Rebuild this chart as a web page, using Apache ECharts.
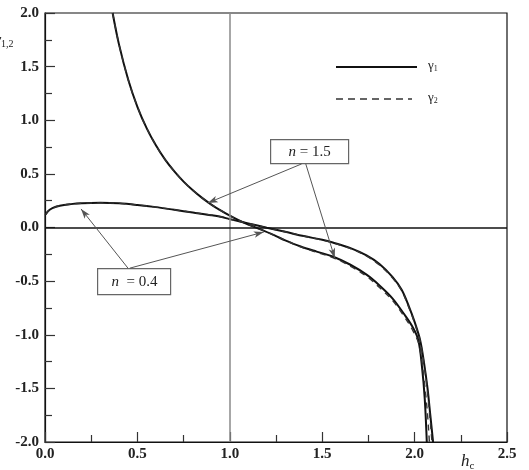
<!DOCTYPE html>
<html>
<head>
<meta charset="utf-8">
<script src="https://cdn.jsdelivr.net/npm/echarts@6/dist/echarts.min.js"></script>
<style>
  html, body { margin: 0; padding: 0; background: #fff; }
  #chart { width: 529px; height: 470px; }
</style>
</head>
<body>
<div id="chart"></div>
<script>
// n = 1.5, gamma1 (solid) and gamma2 (dashed)
const n15Gamma1 = [
  [0.366, 2.0], [0.40, 1.71], [0.45, 1.38], [0.50, 1.125], [0.55, 0.926], [0.60, 0.766],
  [0.65, 0.633], [0.70, 0.523], [0.75, 0.428], [0.80, 0.347], [0.85, 0.276], [0.90, 0.214],
  [0.95, 0.159], [1.0, 0.11], [1.05, 0.066], [1.1, 0.027], [1.17, -0.02], [1.25, -0.08],
  [1.3, -0.12], [1.38, -0.175], [1.47, -0.225], [1.557, -0.27], [1.65, -0.345], [1.74, -0.44],
  [1.81, -0.54], [1.88, -0.66], [1.94, -0.8], [1.99, -0.93], [2.02, -1.05], [2.04, -1.3],
  [2.055, -1.6], [2.066, -2.0]
];
const n15Gamma2 = [
  [0.366, 2.0], [0.40, 1.71], [0.45, 1.38], [0.50, 1.125], [0.55, 0.926], [0.60, 0.766],
  [0.65, 0.633], [0.70, 0.523], [0.75, 0.428], [0.80, 0.347], [0.85, 0.276], [0.90, 0.214],
  [0.95, 0.159], [1.0, 0.11], [1.05, 0.066], [1.1, 0.027], [1.17, -0.02], [1.25, -0.08],
  [1.3, -0.12], [1.38, -0.178], [1.47, -0.232], [1.557, -0.28], [1.65, -0.358], [1.74, -0.455],
  [1.81, -0.56], [1.88, -0.68], [1.94, -0.82], [1.99, -0.96], [2.025, -1.1], [2.05, -1.4],
  [2.068, -1.7], [2.08, -2.0]
];
// n = 0.4, gamma1 (solid) and gamma2 (dashed)
const n04Gamma1 = [
  [0.003, 0.12], [0.015, 0.15], [0.04, 0.18], [0.08, 0.203], [0.14, 0.218], [0.2, 0.226],
  [0.3, 0.23], [0.4, 0.225], [0.5, 0.21], [0.6, 0.19], [0.7, 0.165], [0.8, 0.14],
  [0.9, 0.115], [0.95, 0.1], [1.0, 0.078], [1.1, 0.038], [1.2, -0.002], [1.3, -0.04],
  [1.4, -0.08], [1.5, -0.115], [1.557, -0.14], [1.65, -0.19], [1.74, -0.26], [1.81, -0.34],
  [1.88, -0.46], [1.93, -0.58], [1.97, -0.74], [2.0, -0.88], [2.03, -1.05], [2.05, -1.25],
  [2.07, -1.5], [2.085, -1.75], [2.1, -2.0]
];
const n04Gamma2 = [
  [0.003, 0.12], [0.015, 0.15], [0.04, 0.18], [0.08, 0.203], [0.14, 0.218], [0.2, 0.226],
  [0.3, 0.23], [0.4, 0.225], [0.5, 0.21], [0.6, 0.19], [0.7, 0.165], [0.8, 0.14],
  [0.9, 0.115], [0.95, 0.1], [1.0, 0.078], [1.1, 0.038], [1.2, -0.002], [1.3, -0.04],
  [1.4, -0.08], [1.5, -0.117], [1.557, -0.143], [1.65, -0.195], [1.74, -0.267], [1.81, -0.35],
  [1.88, -0.47], [1.93, -0.59], [1.97, -0.75], [2.0, -0.89], [2.03, -1.06], [2.05, -1.26],
  [2.068, -1.5], [2.082, -1.75], [2.094, -2.0]
];

// annotation arrows: [from, to] in data units
const n15Arrows = [
  [[1.389, 0.593], [0.881, 0.229]],
  [[1.411, 0.593], [1.568, -0.285]]
];
const n04Arrows = [
  [[0.449, -0.379], [0.195, 0.173]],
  [[0.459, -0.379], [1.184, -0.042]]
];

const xTicks = [0, 0.5, 1.0, 1.5, 2.0, 2.5];
const yTicks = [-2, -1.5, -1, -0.5, 0, 0.5, 1, 1.5, 2];

const serif = '"Liberation Serif", "DejaVu Serif", serif';
const chart = echarts.init(document.getElementById('chart'));

function curve(name, data, dashed) {
  return {
    name: name,
    type: 'line',
    data: data,
    smooth: 0.35,
    showSymbol: false,
    clip: true,
    lineStyle: dashed
      ? { color: '#333', width: 1.4, type: [6, 5] }
      : { color: '#111', width: 2 },
    z: dashed ? 4 : 3
  };
}

function arrowLines(list) {
  return list.map(a => [
    { coord: a[0], symbol: 'none' },
    { coord: a[1], symbol: 'arrow', symbolSize: [5, 10] }
  ]);
}

const tickStyle = { color: '#333', width: 1.2 };
const labelStyle = {
  color: '#222', fontFamily: serif, fontSize: 15, fontWeight: 'bold',
  formatter: v => v.toFixed(1)
};

const option = {
  animation: false,
  backgroundColor: '#fff',
  grid: {
    left: 45, right: 22, top: 13, bottom: 28,
    show: true, borderColor: '#111', borderWidth: 1.2
  },
  xAxis: {
    type: 'value',
    min: xTicks[0], max: xTicks[xTicks.length - 1], interval: 0.5,
    axisLine: { onZero: false, lineStyle: { color: '#111', width: 1.2 } },
    axisTick: { inside: true, length: 10, lineStyle: tickStyle },
    minorTick: { show: true, splitNumber: 2, length: 7, lineStyle: tickStyle },
    splitLine: { show: false },
    axisLabel: Object.assign({ margin: 5 }, labelStyle)
  },
  yAxis: {
    type: 'value',
    min: yTicks[0], max: yTicks[yTicks.length - 1], interval: 0.5,
    axisLine: { onZero: false, lineStyle: { color: '#111', width: 1.2 } },
    axisTick: { inside: true, length: 10, lineStyle: tickStyle },
    minorTick: { show: true, splitNumber: 2, length: 7, lineStyle: tickStyle },
    splitLine: { show: false },
    axisLabel: Object.assign({ margin: 6 }, labelStyle)
  },
  series: [
    curve('n15g1', n15Gamma1, false),
    curve('n15g2', n15Gamma2, true),
    curve('n04g1', n04Gamma1, false),
    curve('n04g2', n04Gamma2, true),
    {
      name: 'refs',
      type: 'line',
      data: [],
      markLine: {
        silent: true,
        symbol: 'none',
        label: { show: false },
        data: [
          { xAxis: 1.0, lineStyle: { color: '#8a8a8a', width: 1.5, type: 'solid' } },
          { yAxis: 0, lineStyle: { color: '#111', width: 1.6, type: 'solid' } }
        ]
      },
      z: 2
    },
    {
      name: 'arrows',
      type: 'line',
      data: [],
      markLine: {
        silent: true,
        label: { show: false },
        lineStyle: { color: '#555', width: 1, type: 'solid' },
        itemStyle: { color: '#333' },
        data: arrowLines(n15Arrows).concat(arrowLines(n04Arrows))
      },
      z: 5
    }
  ],
  graphic: [
    // legend
    { type: 'line', shape: { x1: 336, y1: 67, x2: 417, y2: 67 }, style: { stroke: '#111', lineWidth: 2 } },
    { type: 'line', shape: { x1: 336, y1: 99, x2: 412, y2: 99 }, style: { stroke: '#333', lineWidth: 1.6, lineDash: [7, 5] } },
    {
      type: 'text', left: 428, top: 59,
      style: {
        text: '{g|γ}{s|1}', fill: '#222',
        rich: { g: { fontFamily: serif, fontSize: 13 }, s: { fontFamily: serif, fontSize: 8, padding: [6, 0, 0, 0] } }
      }
    },
    {
      type: 'text', left: 428, top: 91,
      style: {
        text: '{g|γ}{s|2}', fill: '#222',
        rich: { g: { fontFamily: serif, fontSize: 13 }, s: { fontFamily: serif, fontSize: 8, padding: [6, 0, 0, 0] } }
      }
    },
    // label boxes
    {
      type: 'group', left: 270, top: 139, z: 20,
      children: [
        { type: 'rect', shape: { x: 0, y: 0, width: 78, height: 24 }, style: { fill: '#fff', stroke: '#666', lineWidth: 1.2 } },
        {
          type: 'text', x: 39, y: 12,
          style: {
            text: '{i|n} = 1.5', align: 'center', verticalAlign: 'middle', fill: '#222',
            fontFamily: serif, fontSize: 15,
            rich: { i: { fontFamily: serif, fontSize: 15, fontStyle: 'italic' } }
          }
        }
      ]
    },
    {
      type: 'group', left: 97, top: 268, z: 20,
      children: [
        { type: 'rect', shape: { x: 0, y: 0, width: 73, height: 26 }, style: { fill: '#fff', stroke: '#666', lineWidth: 1.2 } },
        {
          type: 'text', x: 37, y: 13,
          style: {
            text: '{i|n}  = 0.4', align: 'center', verticalAlign: 'middle', fill: '#222',
            fontFamily: serif, fontSize: 15,
            rich: { i: { fontFamily: serif, fontSize: 15, fontStyle: 'italic' } }
          }
        }
      ]
    },
    // axis names (cropped at edges like the source)
    {
      type: 'text', left: -5, top: 33,
      style: {
        text: '{g|γ}{s|1,2}', fill: '#222',
        rich: { g: { fontFamily: serif, fontSize: 15, fontStyle: 'italic' }, s: { fontFamily: serif, fontSize: 10, padding: [7, 0, 0, 0] } }
      }
    },
    {
      type: 'text', left: 461, top: 453,
      style: {
        text: '{g|h}{s|c}', fill: '#222',
        rich: { g: { fontFamily: serif, fontSize: 17, fontStyle: 'italic' }, s: { fontFamily: serif, fontSize: 11, padding: [10, 0, 0, 0] } }
      }
    }
  ]
};

chart.setOption(option);
</script>
</body>
</html>
